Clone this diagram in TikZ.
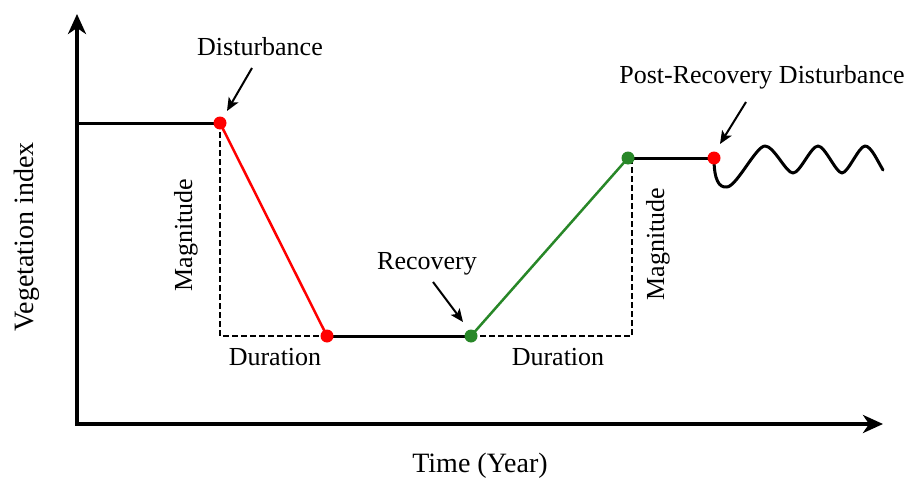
\documentclass[tikz,border=0pt]{standalone}
\usepackage{fontspec}
\setmainfont{Liberation Serif}
\usetikzlibrary{arrows.meta}
\definecolor{myred}{RGB}{255,0,0}
\definecolor{mygreen}{RGB}{40,135,40}
\begin{document}
\begin{tikzpicture}[x=1pt,y=-1pt,
  axis/.style={line width=3.5pt,-{Stealth[length=20pt,width=18pt,inset=6pt]}},
  base/.style={line width=3pt,black},
  dropline/.style={line width=2.5pt,myred},
  riseline/.style={line width=2.5pt,mygreen},
  guide/.style={line width=1.5pt,dash pattern=on 6pt off 3pt},
  pt/.style={circle,inner sep=0pt,minimum size=13pt},
  lbl/.style={font=\fontsize{26}{30}\selectfont,inner sep=0pt},
  axlbl/.style={font=\fontsize{28}{32}\selectfont,inner sep=0pt},
  note/.style={line width=2pt,-{Stealth[length=13pt,width=11pt,inset=3pt]}}]
\useasboundingbox (0,0) rectangle (906,479);
% axes
\coordinate (origin) at (77,424);
\coordinate (ytip) at (77,14);
\coordinate (xtip) at (883,424);
\draw[axis,line cap=rect] (origin) -- (ytip);
\draw[axis,line cap=rect] (origin) -- (xtip);
% key points
\coordinate (start) at (77,123);
\coordinate (D) at (220,123);
\coordinate (DB) at (327,336);
\coordinate (R) at (471,336);
\coordinate (RT) at (628,158);
\coordinate (P) at (714,158);
\coordinate (c1) at (220,336);
\coordinate (c2) at (632,336);
\coordinate (c3) at (632,158);
\coordinate (wend) at (883,170);
% guides
\draw[guide] (D) -- (c1) -- (DB);
\draw[guide] (R) -- (c2) -- (c3);
% curve
\draw[base] (start) -- (D);
\draw[dropline] (D) -- (DB);
\draw[base] (DB) -- (R);
\draw[riseline] (R) -- (RT);
\draw[base] (RT) -- (P);
\draw[base,line cap=round,line join=round] (P)
  .. controls (714,180) and (719,188) .. (727,187)
  .. controls (737,186) and (756,146) .. (765,146)
  .. controls (774,146) and (786,173) .. (793,173)
  .. controls (800,173) and (811,146) .. (818,146)
  .. controls (825,146) and (836,173) .. (842,173)
  .. controls (848,173) and (859,146) .. (865,146)
  .. controls (871,146) and (877,160) .. (wend);
% dots
\node[pt,fill=myred] (dD) at (D) {};
\node[pt,fill=myred] (dDB) at (DB) {};
\node[pt,fill=mygreen] (dR) at (R) {};
\node[pt,fill=mygreen] (dRT) at (RT) {};
\node[pt,fill=myred] (dP) at (P) {};
% labels
\node[lbl] (tDist) at (260,47) {Disturbance};
\node[lbl] (tPost) at (762,77) {Post-Recovery Disturbance};
\node[lbl] (tRec) at (427,264) {Recovery};
\node[lbl] (tDur1) at (275,357) {Duration};
\node[lbl] (tDur2) at (558,357) {Duration};
\node[lbl,rotate=90] (tMag1) at (186,235) {Magnitude};
\node[lbl,rotate=90] (tMag2) at (658,244) {Magnitude};
\node[axlbl,rotate=90] (tY) at (27,237) {Vegetation index};
\node[axlbl] (tX) at (480,466) {Time (Year)};
% annotation arrows
\coordinate (a1s) at (252,68);
\coordinate (a1e) at (227,111);
\coordinate (a2s) at (433,282);
\coordinate (a2e) at (463,322);
\coordinate (a3s) at (746,102);
\coordinate (a3e) at (720,144);
\draw[note] (a1s) -- (a1e);
\draw[note] (a2s) -- (a2e);
\draw[note] (a3s) -- (a3e);
\end{tikzpicture}
\end{document}
